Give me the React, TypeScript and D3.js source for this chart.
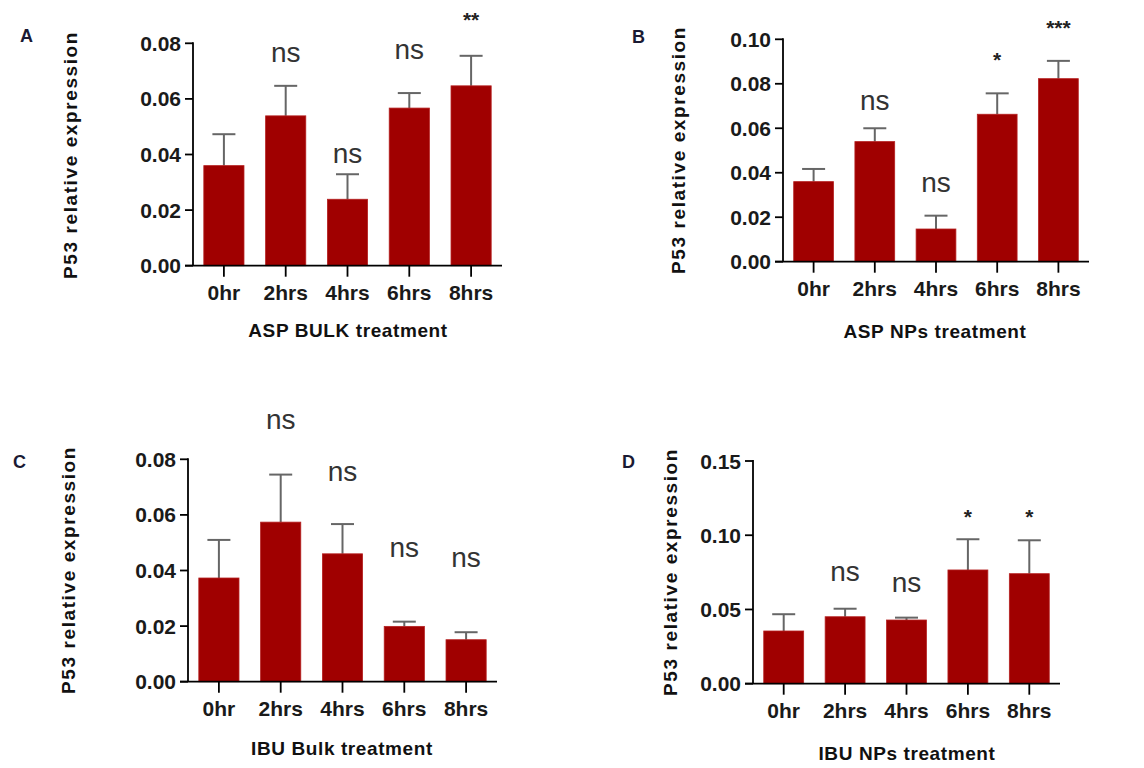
import React from "react";
import * as d3 from "d3";

// ---------- DATA ----------
const categories = ["0hr", "2hrs", "4hrs", "6hrs", "8hrs"];

const aspBulkMean = [0.036, 0.0539, 0.0239, 0.0567, 0.0647];
const aspBulkSem = [0.0113, 0.0108, 0.009, 0.0054, 0.0108];
const aspBulkSig = ["", "ns", "ns", "ns", "**"];
const aspBulkSigAt = [0, 0.0758, 0.0398, 0.077, 0.0902];

const aspNpMean = [0.036, 0.054, 0.0147, 0.0663, 0.0823];
const aspNpSem = [0.0057, 0.006, 0.006, 0.0094, 0.008];
const aspNpSig = ["", "ns", "ns", "*", "***"];
const aspNpSigAt = [0, 0.0714, 0.0345, 0.093, 0.1074];

const ibuBulkMean = [0.0373, 0.0574, 0.046, 0.0199, 0.0151];
const ibuBulkSem = [0.0137, 0.0171, 0.0107, 0.0017, 0.0027];
const ibuBulkSig = ["", "ns", "ns", "ns", "ns"];
const ibuBulkSigAt = [0, 0.0936, 0.075, 0.0474, 0.0438];

const ibuNpMean = [0.0355, 0.0451, 0.0429, 0.0766, 0.0741];
const ibuNpSem = [0.0113, 0.0054, 0.0016, 0.0207, 0.0225];
const ibuNpSig = ["", "ns", "ns", "*", "*"];
const ibuNpSigAt = [0, 0.0744, 0.0665, 0.1159, 0.1159];

const yTicksA = [0, 0.02, 0.04, 0.06, 0.08];
const yTicksB = [0, 0.02, 0.04, 0.06, 0.08, 0.1];
const yTicksC = [0, 0.02, 0.04, 0.06, 0.08];
const yTicksD = [0, 0.05, 0.1, 0.15];

const yTitle = "P53 relative expression";

// ---------- LAYOUT ----------
const FONT = "'Liberation Sans', Arial, Helvetica, sans-serif";
const BAR = "#a00000";
const ERR = "#666666";

type PanelProps = {
  letter: string;
  xTitle: string;
  mean: number[];
  sem: number[];
  sig: string[];
  sigAt: number[];
  ticks: number[];
  xRange: [number, number];
  yRange: [number, number];
  letterPos: [number, number];
  yTitlePos: [number, number];
  xTitlePos: [number, number];
};

function Panel(p: PanelProps) {
  const x = d3
    .scaleBand<string>()
    .domain(categories)
    .range(p.xRange)
    .paddingInner(0.35)
    .paddingOuter(0.175);
  const ymax = p.ticks[p.ticks.length - 1];
  const y = d3.scaleLinear().domain([0, ymax]).range(p.yRange);
  const fmt = d3.format(".2f");
  const x0 = p.xRange[0];
  const y0 = y(0);
  const capW = 23;
  return (
    <g>
      <text x={p.letterPos[0]} y={p.letterPos[1]} fontFamily={FONT} fontWeight="bold" fontSize={18} fill="#1a1a33">
        {p.letter}
      </text>
      <text
        transform={`translate(${p.yTitlePos[0]},${p.yTitlePos[1]}) rotate(-90)`}
        textAnchor="middle"
        dominantBaseline="central"
        fontFamily={FONT}
        fontWeight="bold"
        fontSize={19}
        letterSpacing={1.6}
        fill="#111"
      >
        {yTitle}
      </text>
      <text
        x={p.xTitlePos[0]}
        y={p.xTitlePos[1]}
        textAnchor="middle"
        fontFamily={FONT}
        fontWeight="bold"
        fontSize={19}
        letterSpacing={0.6}
        fill="#111"
      >
        {p.xTitle}
      </text>
      {/* bars */}
      {categories.map((c, i) => {
        const bx = x(c)!;
        const bw = x.bandwidth();
        const cx = bx + bw / 2;
        const top = y(p.mean[i]);
        const et = y(p.mean[i] + p.sem[i]);
        return (
          <g key={c}>
            <line x1={cx} x2={cx} y1={top} y2={et} stroke={ERR} strokeWidth={2} />
            <line x1={cx - capW / 2} x2={cx + capW / 2} y1={et} y2={et} stroke={ERR} strokeWidth={2} />
            <rect x={bx} y={top} width={bw} height={y0 - top} fill={BAR} stroke="#b52020" strokeWidth={0.8} />
          </g>
        );
      })}
      {/* significance */}
      {categories.map((c, i) => {
        const s = p.sig[i];
        if (!s) return null;
        const cx = x(c)! + x.bandwidth() / 2;
        const cy = y(p.sigAt[i]);
        if (s === "ns") {
          return (
            <text key={c} x={cx} y={cy + 7.5} textAnchor="middle" fontFamily={FONT} fontSize={28} fill="#333">
              ns
            </text>
          );
        }
        return (
          <text key={c} x={cx} y={cy + 12} textAnchor="middle" fontFamily={FONT} fontWeight="bold" fontSize={21} fill="#222">
            {s}
          </text>
        );
      })}
      {/* y axis */}
      <line x1={x0} x2={x0} y1={y(ymax) - 1} y2={y0} stroke="#000" strokeWidth={1.8} />
      {p.ticks.map((t) => (
        <g key={t}>
          <line x1={x0 - 8} x2={x0} y1={y(t)} y2={y(t)} stroke="#000" strokeWidth={1.8} />
          <text
            x={x0 - 12}
            y={y(t)}
            textAnchor="end"
            dominantBaseline="central"
            fontFamily={FONT}
            fontWeight="bold"
            fontSize={21}
            fill="#1a1a1a"
          >
            {fmt(t)}
          </text>
        </g>
      ))}
      {/* x axis */}
      <line x1={x0 - 8} x2={p.xRange[1]} y1={y0} y2={y0} stroke="#000" strokeWidth={1.8} />
      {categories.map((c) => {
        const cx = x(c)! + x.bandwidth() / 2;
        return (
          <g key={c}>
            <line x1={cx} x2={cx} y1={y0} y2={y0 + 11} stroke="#000" strokeWidth={1.8} />
            <text x={cx} y={y0 + 34} textAnchor="middle" fontFamily={FONT} fontWeight="bold" fontSize={21} fill="#1a1a1a">
              {c}
            </text>
          </g>
        );
      })}
    </g>
  );
}

export default function App() {
  return (
    <svg
      width={1144}
      height={768}
      style={{ position: "absolute", left: 0, top: 0, background: "#fff" }}
    >
      <rect width={1144} height={768} fill="#fff" />
      <Panel
        letter="A"
        xTitle="ASP BULK treatment"
        mean={aspBulkMean}
        sem={aspBulkSem}
        sig={aspBulkSig}
        sigAt={aspBulkSigAt}
        ticks={yTicksA}
        xRange={[193, 502]}
        yRange={[265.7, 43.3]}
        letterPos={[20, 42]}
        yTitlePos={[70, 155]}
        xTitlePos={[348, 337]}
      />
      <Panel
        letter="B"
        xTitle="ASP NPs treatment"
        mean={aspNpMean}
        sem={aspNpSem}
        sig={aspNpSig}
        sigAt={aspNpSigAt}
        ticks={yTicksB}
        xRange={[783, 1089]}
        yRange={[261.7, 39.3]}
        letterPos={[632, 43]}
        yTitlePos={[678, 150]}
        xTitlePos={[935, 338]}
      />
      <Panel
        letter="C"
        xTitle="IBU Bulk treatment"
        mean={ibuBulkMean}
        sem={ibuBulkSem}
        sig={ibuBulkSig}
        sigAt={ibuBulkSigAt}
        ticks={yTicksC}
        xRange={[188, 497]}
        yRange={[681.7, 459.3]}
        letterPos={[13, 468]}
        yTitlePos={[68, 570]}
        xTitlePos={[342, 755]}
      />
      <Panel
        letter="D"
        xTitle="IBU NPs treatment"
        mean={ibuNpMean}
        sem={ibuNpSem}
        sig={ibuNpSig}
        sigAt={ibuNpSigAt}
        ticks={yTicksD}
        xRange={[753, 1060]}
        yRange={[683.7, 461]}
        letterPos={[622, 468]}
        yTitlePos={[670, 572]}
        xTitlePos={[907, 760]}
      />
    </svg>
  );
}
